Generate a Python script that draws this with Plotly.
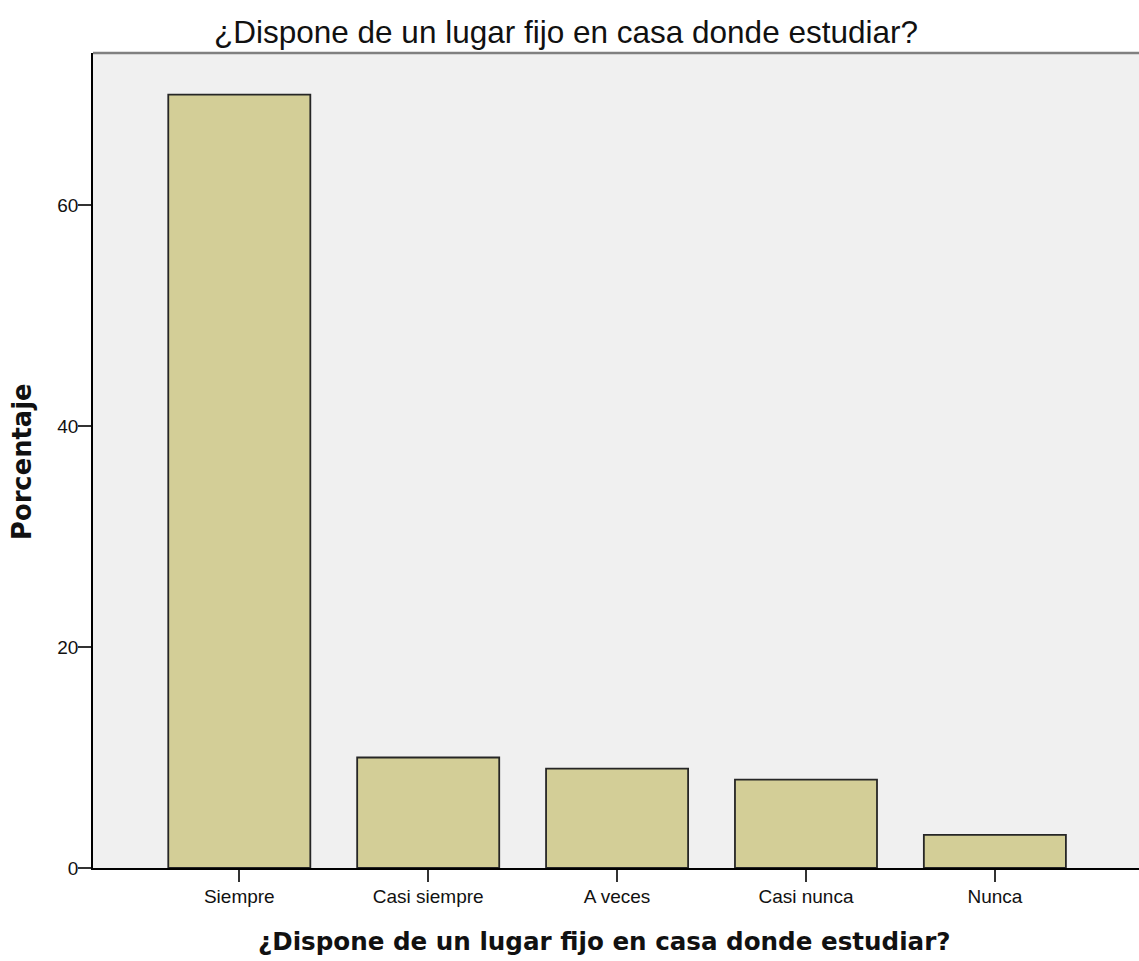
import plotly.graph_objects as go

categories = ["Siempre", "Casi siempre", "A veces", "Casi nunca", "Nunca"]
percentages = [70, 10, 9, 8, 3]
y_ticks = [0, 20, 40, 60]
title_text = "¿Dispone de un lugar fijo en casa donde estudiar?"
y_title = "Porcentaje"

W, H = 1139, 961
ml, mt, mb, mr = 93, 53, 93, 0
plot_w = W - ml - mr
plot_h = H - mt - mb

fig = go.Figure()
fig.add_trace(go.Bar(
    x=list(range(len(categories))),
    y=percentages,
    marker=dict(color="#D3CE97", line=dict(color="#262626", width=1.8)),
    width=0.752,
))

fig.update_layout(
    width=W, height=H,
    margin=dict(l=ml, r=mr, t=mt, b=mb, pad=0, autoexpand=False),
    paper_bgcolor="white",
    plot_bgcolor="#F0F0F0",
    showlegend=False,
    title=dict(text=title_text, x=566 / W, xref="container", xanchor="center",
               y=1 - 32 / H, yanchor="middle",
               font=dict(family="Liberation Sans, Arial, sans-serif", size=31.5, color="#111")),
    font=dict(family="Liberation Sans, Arial, sans-serif", color="#111"),
)

fig.update_xaxes(
    range=[-0.7745, 4.763],
    automargin=False,
    tickmode="array",
    tickvals=list(range(len(categories))),
    ticktext=categories,
    ticks="outside", ticklen=12, tickwidth=1.5, tickcolor="#333",
    tickfont=dict(size=19, color="#111"),
    ticklabelstandoff=-2,
    showline=True, linecolor="black", linewidth=1.5,
    showgrid=False, zeroline=False,
)
fig.update_yaxes(
    range=[0, 73.76],
    automargin=False,
    tickmode="array",
    tickvals=y_ticks,
    ticks="outside", ticklen=13, tickwidth=1.5, tickcolor="#333",
    tickfont=dict(size=19, color="#111"),
    ticklabelstandoff=-4,
    showline=True, linecolor="black", linewidth=1.5,
    showgrid=False, zeroline=False,
)

# top border of plot area
fig.add_shape(type="line", xref="paper", yref="paper", x0=0, x1=1, y0=1, y1=1,
              line=dict(color="#808080", width=2.5))

# y-axis title
fig.add_annotation(
    text="<b>" + y_title + "</b>",
    xref="paper", yref="paper",
    x=(22 - ml) / plot_w, xanchor="center",
    y=(H - mb - 462) / plot_h, yanchor="middle",
    textangle=-90, showarrow=False,
    font=dict(family="DejaVu Sans, sans-serif", size=25.8, color="#111"),
)

# x-axis title
fig.add_annotation(
    text="<b>" + title_text + "</b>",
    xref="paper", yref="paper",
    x=(604 - ml) / plot_w, xanchor="center",
    y=-(942 - (H - mb)) / plot_h, yanchor="middle",
    showarrow=False,
    font=dict(family="DejaVu Sans, sans-serif", size=24.6, color="#111"),
)

fig.write_html("out.html",
               config={"displayModeBar": False},
               post_script="document.body.style.margin='0';document.body.style.overflow='hidden';")
